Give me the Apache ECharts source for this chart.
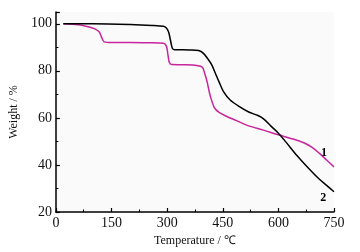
<!DOCTYPE html>
<html lang="en" style="height: 100%">
<head>
  <meta charset="utf-8">
</head>
<body style="height: 100%; margin: 0; background: #fff">
<div id="container" style="height: 100%"></div>

<script type="text/javascript" src="https://fastly.jsdelivr.net/npm/echarts@6/dist/echarts.min.js"></script>
<script type="text/javascript">
  // 曲线1 (品红) 和 曲线2 (黑) 的 TG 数据: [温度, 失重%]
  var curve1 = [
    [20, 100], [60, 99.6], [90, 98.6], [105, 97.8], [117, 96.5], [124, 94], [130, 92.3],
    [150, 92], [200, 92], [250, 91.9], [290, 91.7], [298, 90.5], [302, 87], [306, 83.5],
    [312, 82.7], [340, 82.6], [380, 82.3], [395, 81.5], [402, 78.5], [408, 75.2],
    [416, 69.5], [427, 64.5], [440, 62.3], [460, 60.7], [490, 58.6], [520, 56.6],
    [560, 54.8], [600, 52.8], [640, 51], [670, 49.3], [690, 47.6], [710, 45],
    [730, 42.1], [750, 39.2]
  ];
  var curve2 = [
    [20, 100], [100, 100], [200, 99.7], [260, 99.3], [290, 98.9], [298, 98.2],
    [304, 96.5], [309, 93], [314, 89.6], [320, 89], [360, 88.9], [385, 88.6],
    [398, 87.4], [410, 85], [420, 82.6], [430, 79], [440, 75.3], [452, 71.2],
    [470, 67.6], [495, 64.8], [520, 62.5], [545, 61], [560, 59.6], [580, 56.5],
    [600, 53.5], [620, 49.8], [650, 44], [680, 38.8], [710, 34], [730, 31.3], [750, 28.6]
  ];
  // 曲线编号标注位置
  var tag1 = [723, 45];
  var tag2 = [721, 26];

  var dom = document.getElementById('container');
  var myChart = echarts.init(dom, null, { renderer: 'canvas' });

  var serif = '"Liberation Serif", "Times New Roman", serif';
  var axisCommon = {
    axisLine: { lineStyle: { color: '#000', width: 1.5 } },
    axisTick: { inside: true, length: 4, lineStyle: { color: '#000', width: 1.2 } },
    minorTick: { show: true, splitNumber: 2, length: 2.5, lineStyle: { color: '#000', width: 1 } },
    splitLine: { show: false },
    axisLabel: { color: '#111', fontFamily: serif, fontSize: 14 },
    nameTextStyle: { color: '#111', fontFamily: serif, fontSize: 12 }
  };

  function tagPoint(text, coord) {
    return {
      symbol: 'circle', symbolSize: 1,
      itemStyle: { color: 'rgba(0,0,0,0)' },
      label: { show: true, position: 'inside', formatter: text, color: '#000', fontFamily: serif, fontWeight: 'bold', fontSize: 12 },
      data: [{ coord: coord }]
    };
  }

  var option = {
    animation: false,
    grid: { left: 51, right: 26, top: 12, bottom: 34, backgroundColor: '#fafafa', show: true, borderWidth: 0 },
    xAxis: Object.assign({}, axisCommon, {
      type: 'value', min: 0, max: 750, interval: 150,
      name: 'Temperature / ℃', nameLocation: 'middle', nameGap: 23,
      axisLabel: Object.assign({}, axisCommon.axisLabel, { margin: 4 })
    }),
    yAxis: Object.assign({}, axisCommon, {
      type: 'value', min: 20, max: 105, interval: 20,
      name: 'Weight / %', nameLocation: 'middle', nameGap: 29,
      axisLabel: Object.assign({}, axisCommon.axisLabel, {
        margin: 4,
        formatter: function (v) { return v > 100 ? '' : v; }
      })
    }),
    series: [
      {
        type: 'line', data: curve1, smooth: 0.3, showSymbol: false,
        lineStyle: { color: '#c8249c', width: 1.5 },
        markPoint: tagPoint('1', tag1)
      },
      {
        type: 'line', data: curve2, smooth: 0.3, showSymbol: false,
        lineStyle: { color: '#000', width: 1.5 },
        markPoint: tagPoint('2', tag2)
      }
    ]
  };

  myChart.setOption(option);
  window.addEventListener('resize', myChart.resize);
</script>
</body>
</html>
